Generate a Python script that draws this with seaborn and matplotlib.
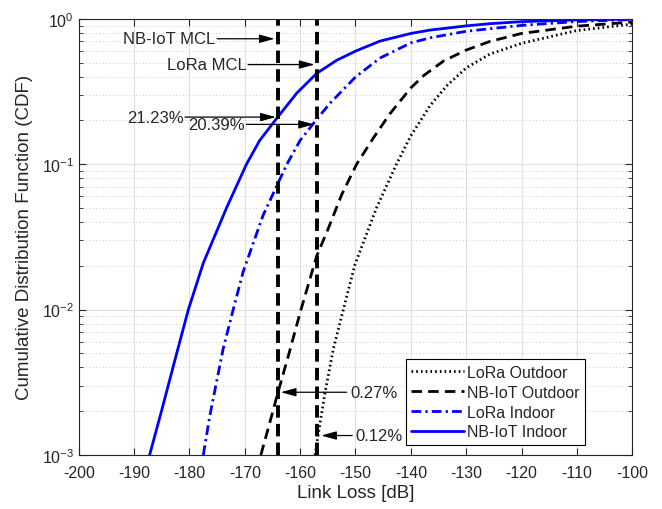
import numpy as np
import pandas as pd
import seaborn as sns
import matplotlib.pyplot as plt
from matplotlib.ticker import LogLocator, NullFormatter, MultipleLocator

# valores (link loss em dB, CDF)
lora_out_db = [-157.3, -157.0, -155.5, -154.0, -152.2, -150.1, -146.2, -142.6, -140.0, -136.5, -133.5, -130.0, -125.7, -120.0, -110.0, -100.0]
lora_out_cdf = [0.001, 0.0012, 0.00269, 0.00537, 0.01, 0.0204, 0.0501, 0.1, 0.157, 0.254, 0.347, 0.46, 0.573, 0.679, 0.832, 0.92]

nbiot_out_db = [-167.1, -165.5, -164.0, -162.0, -160.0, -158.0, -157.0, -155.0, -152.5, -149.8, -146.8, -143.8, -141.4, -140.0, -137.7, -134.1, -130.0, -125.7, -120.0, -110.0, -100.0]
nbiot_out_cdf = [0.001, 0.00166, 0.0027, 0.00501, 0.00955, 0.0174, 0.0234, 0.0355, 0.0617, 0.1, 0.151, 0.222, 0.288, 0.335, 0.407, 0.513, 0.61, 0.70, 0.794, 0.891, 0.951]

lora_in_db = [-177.5, -176.3, -173.9, -172.1, -170.3, -166.7, -164.0, -162.4, -160.0, -157.0, -154.6, -150.0, -145.6, -140.0, -136.5, -130.0, -120.0, -110.0, -100.0]
lora_in_cdf = [0.001, 0.00188, 0.0054, 0.01, 0.0182, 0.0445, 0.0741, 0.1, 0.146, 0.2039, 0.263, 0.398, 0.537, 0.684, 0.741, 0.822, 0.902, 0.959, 0.989]

nbiot_in_db = [-187.2, -185.2, -182.3, -180.2, -177.5, -173.3, -169.7, -167.3, -164.0, -160.6, -157.0, -153.4, -150.0, -145.6, -140.0, -136.5, -130.0, -125.7, -120.0, -110.0, -100.0]
nbiot_in_cdf = [0.001, 0.00191, 0.00501, 0.01, 0.0209, 0.0501, 0.1, 0.146, 0.2123, 0.309, 0.422, 0.519, 0.60, 0.703, 0.794, 0.838, 0.895, 0.927, 0.957, 0.984, 0.995]

mcl_db = [-164, -157]  # NB-IoT MCL, LoRa MCL

sns.set_style("ticks")
plt.rcParams['font.family'] = ['Liberation Sans', 'DejaVu Sans']
plt.rcParams['mathtext.default'] = 'regular'
plt.rcParams['axes.unicode_minus'] = False
plt.rcParams['font.size'] = 11.5

fig = plt.figure(figsize=(6.62, 5.10), dpi=100)
ax = fig.add_axes([0.119, 0.106, 0.836, 0.855])

series = [
    ("LoRa Outdoor", lora_out_db, lora_out_cdf, "black", (0.6, 1.1)),
    ("NB-IoT Outdoor", nbiot_out_db, nbiot_out_cdf, "black", (3.8, 2.2)),
    ("LoRa Indoor", lora_in_db, lora_in_cdf, "blue", (3.5, 1.5, 0.8, 1.5)),
    ("NB-IoT Indoor", nbiot_in_db, nbiot_in_cdf, "blue", None),
]
for nome, xs, ys, cor, tracos in series:
    df = pd.DataFrame({"x": xs, "y": ys})
    sns.lineplot(data=df, x="x", y="y", ax=ax, color=cor, lw=2.0,
                 estimator=None, sort=False, label=nome)
    if tracos is not None:
        ax.lines[-1].set_dashes(tracos)

# linhas do MCL
for m in mcl_db:
    ln = ax.axvline(m, color="black", lw=2.8)
    ln.set_dashes((3.2, 1.6))

ax.set_yscale("log")
ax.set_xlim(-200, -100)
ax.set_ylim(1e-3, 1)
ax.xaxis.set_major_locator(MultipleLocator(10))
ax.yaxis.set_major_locator(LogLocator(base=10))
ax.yaxis.set_minor_locator(LogLocator(base=10, subs=np.arange(2, 10)))
ax.yaxis.set_minor_formatter(NullFormatter())
ax.tick_params(which="both", direction="in", top=True, right=True, labelsize=11.5)
ax.tick_params(which="major", length=5)
ax.tick_params(which="minor", length=3)
ax.tick_params(axis="x", pad=7)
ax.grid(True, which="major", color="#e0e0e0", lw=0.8)
ax.grid(True, which="minor", axis="y", color="#bbbbbb", lw=0.6, ls=(0, (1, 3)))
ax.set_axisbelow(True)
for s in ax.spines.values():
    s.set_color("#262626")
    s.set_linewidth(0.8)

ax.set_xlabel("Link Loss [dB]", fontsize=13.5, labelpad=3)
ax.set_ylabel("Cumulative Distribution Function (CDF)", fontsize=13.5, labelpad=6)

# anotacoes
seta = dict(arrowstyle="-|>,head_length=0.8,head_width=0.22", color="black", lw=0.9, shrinkA=0, shrinkB=0)
notas = [
    ("NB-IoT MCL", (-175.0, 0.73), (-164.6, 0.73), "right"),
    ("LoRa MCL", (-169.4, 0.485), (-157.4, 0.485), "right"),
    ("21.23%", (-180.8, 0.211), (-164.4, 0.211), "right"),
    ("20.39%", (-169.7, 0.188), (-157.5, 0.188), "right"),
    ("0.27%", (-151.6, 0.0027), (-163.5, 0.0027), "left"),
    ("0.12%", (-150.6, 0.00136), (-156.2, 0.00136), "left"),
]
for txt, inicio, ponta, alin in notas:
    ax.annotate("", xy=ponta, xytext=inicio, arrowprops=seta)
    dx = -0.3 if alin == "right" else 0.6
    ax.text(inicio[0] + dx, inicio[1], txt, ha=alin, va="center", fontsize=12)

leg = ax.legend(loc="lower left", bbox_to_anchor=(0.591, 0.023), fontsize=11.5,
                handlelength=3.3, fancybox=False, framealpha=1, edgecolor="black",
                borderpad=0.35, labelspacing=0.3, handletextpad=0.2, borderaxespad=0)
leg.get_frame().set_linewidth(0.8)

fig.savefig("out.png", dpi=100)
